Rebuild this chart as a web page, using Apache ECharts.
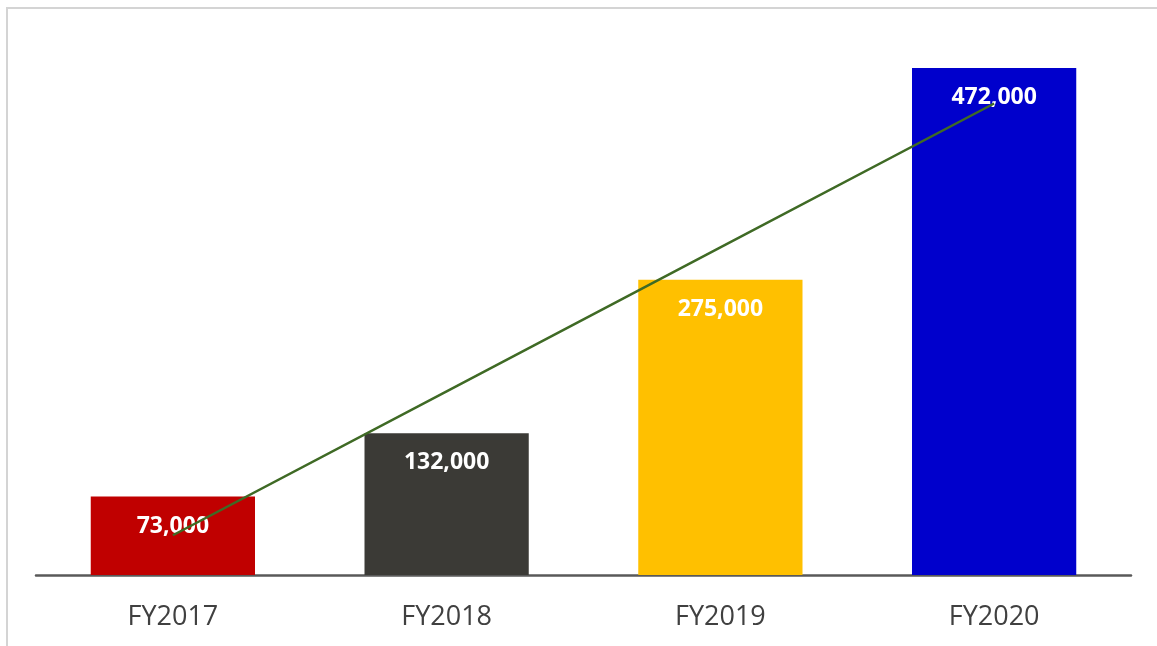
<!DOCTYPE html>
<html>
<head>
<meta charset="utf-8">
<script src="https://cdn.jsdelivr.net/npm/echarts@6/dist/echarts.min.js"></script>
<style>
  html, body { margin: 0; padding: 0; background: #fff; }
  #chart { width: 1157px; height: 646px; }
</style>
</head>
<body>
<div id="chart"></div>
<script>
const years = ['FY2017', 'FY2018', 'FY2019', 'FY2020'];
const amounts = [73000, 132000, 275000, 472000];
const barColors = ['#c00000', '#3b3a36', '#ffc000', '#0000cc'];
// linear trendline
const trend = [37000, 171000, 305000, 439000];

const chart = echarts.init(document.getElementById('chart'));

chart.setOption({
    animation: false,
    graphic: [{
        type: 'rect',
        shape: { x: 7, y: 8, width: 1300, height: 800 },
        style: { fill: 'none', stroke: '#d4d4d4', lineWidth: 2 },
        silent: true
    }],
    grid: { left: 36, right: 26, top: 38, bottom: 71 },
    xAxis: {
        type: 'category',
        data: years,
        axisLine: { lineStyle: { color: '#595959', width: 2.5 } },
        axisTick: { show: false },
        axisLabel: {
            color: '#404040',
            fontSize: 27,
            fontFamily: 'Open Sans',
            margin: 29
        }
    },
    yAxis: {
        type: 'value',
        min: 0,
        max: 500000,
        show: false,
        splitLine: { show: false }
    },
    series: [
        {
            type: 'bar',
            data: amounts.map((v, i) => ({ value: v, itemStyle: { color: barColors[i] } })),
            barWidth: '60%',
            label: {
                show: true,
                position: 'insideTop',
                distance: 18,
                color: '#fff',
                fontSize: 23,
                fontWeight: 'bold',
                fontFamily: 'Open Sans',
                formatter: p => p.value.toLocaleString('en-US')
            }
        },
        {
            type: 'line',
            data: trend,
            symbol: 'none',
            lineStyle: { color: '#3f6a25', width: 2.5 },
            z: 5
        }
    ]
});
</script>
</body>
</html>
